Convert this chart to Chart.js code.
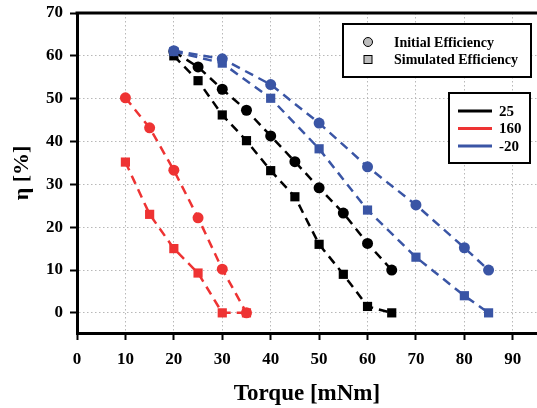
<!DOCTYPE html>
<html>
<head>
<meta charset="utf-8">
<script src="https://cdn.jsdelivr.net/npm/chart.js@4.4.0/dist/chart.umd.min.js"></script>
<style>
  html, body { margin: 0; padding: 0; background: #fff; }
  #wrap { width: 537px; height: 408px; position: relative; }
</style>
</head>
<body>
<div id="wrap"><canvas id="effChart" width="537" height="408"></canvas></div>
<script>
// Torque values (mNm) for each temperature
const torque25 = [20, 25, 30, 35, 40, 45, 50, 55, 60, 65];
const torque160 = [10, 15, 20, 25, 30, 35];
const torqueMinus20 = [20, 30, 40, 50, 60, 70, 80, 85];

// Efficiency values (%)
const initial25 = [61, 57.4, 52.2, 47.3, 41.3, 35.3, 29.2, 23.3, 16.2, 10];
const simulated25 = [60, 54.2, 46.2, 40.2, 33.2, 27.1, 16, 9, 1.5, 0];
const initial160 = [50.2, 43.2, 33.3, 22.2, 10.2, 0];
const simulated160 = [35.2, 23, 15, 9.3, 0, 0];
const initialMinus20 = [61.2, 59.3, 53.3, 44.3, 34.1, 25.2, 15.2, 10];
const simulatedMinus20 = [61, 58.3, 50.1, 38.3, 24, 13, 4, 0];

const xTicks = [0, 10, 20, 30, 40, 50, 60, 70, 80, 90];
const yTicks = [0, 10, 20, 30, 40, 50, 60, 70];

const BLACK = '#000000';
const RED = '#ee3333';
const BLUE = '#3a55a5';
const SERIF = '"Liberation Serif", "DejaVu Serif", serif';

function points(xs, ys) {
    return xs.map((x, i) => ({ x: x, y: ys[i] }));
}

function series(label, xs, ys, color, shape) {
    return {
        label: label,
        data: points(xs, ys),
        borderColor: color,
        backgroundColor: color,
        borderWidth: 2.5,
        borderDash: [9, 6],
        pointStyle: shape,
        pointRadius: shape === 'rect' ? 6.5 : 5.5,
        pointBorderWidth: 0,
        pointBorderColor: color,
        pointBackgroundColor: color,
        tension: 0
    };
}

// Legends, top border of the plot
const decorPlugin = {
    id: 'decor',
    afterDraw(chart) {
        const ctx = chart.ctx;
        const area = chart.chartArea;
        ctx.save();

        // top frame line
        ctx.strokeStyle = '#000';
        ctx.lineWidth = 3;
        ctx.beginPath();
        ctx.moveTo(area.left - 1.5, area.top);
        ctx.lineTo(area.right, area.top);
        ctx.stroke();

        // marker legend
        ctx.fillStyle = '#fff';
        ctx.fillRect(343, 24, 188, 53);
        ctx.lineWidth = 2;
        ctx.strokeRect(343, 24, 188, 53);

        ctx.fillStyle = '#bdbdbd';
        ctx.lineWidth = 1;
        ctx.beginPath();
        ctx.arc(368, 42, 4.5, 0, Math.PI * 2);
        ctx.fill();
        ctx.stroke();
        ctx.fillRect(364, 55.5, 8, 8);
        ctx.strokeRect(364, 55.5, 8, 8);

        ctx.fillStyle = '#000';
        ctx.font = 'bold 14px ' + SERIF;
        ctx.textBaseline = 'middle';
        ctx.textAlign = 'left';
        ctx.fillText('Initial Efficiency', 394, 43);
        ctx.fillText('Simulated Efficiency', 394, 60);

        // temperature legend
        ctx.fillStyle = '#fff';
        ctx.fillRect(449, 93, 81, 70);
        ctx.lineWidth = 2;
        ctx.strokeStyle = '#000';
        ctx.strokeRect(449, 93, 81, 70);

        const rows = [['25', BLACK, 111], ['160', RED, 128.5], ['-20', BLUE, 146]];
        ctx.font = 'bold 15px ' + SERIF;
        rows.forEach(r => {
            ctx.strokeStyle = r[1];
            ctx.lineWidth = 3;
            ctx.beginPath();
            ctx.moveTo(458, r[2]);
            ctx.lineTo(492, r[2]);
            ctx.stroke();
            ctx.fillStyle = '#000';
            ctx.fillText(r[0], 499, r[2] + 1);
        });

        ctx.restore();
    }
};

const ctx = document.getElementById('effChart').getContext('2d');

new Chart(ctx, {
    type: 'line',
    data: {
        datasets: [
            series('-20 initial', torqueMinus20, initialMinus20, BLUE, 'circle'),
            series('-20 simulated', torqueMinus20, simulatedMinus20, BLUE, 'rect'),
            series('25 initial', torque25, initial25, BLACK, 'circle'),
            series('25 simulated', torque25, simulated25, BLACK, 'rect'),
            series('160 initial', torque160, initial160, RED, 'circle'),
            series('160 simulated', torque160, simulated160, RED, 'rect')
        ]
    },
    options: {
        responsive: false,
        animation: false,
        layout: { autoPadding: false, padding: { top: 13, right: 0, left: 0, bottom: 0 } },
        plugins: {
            legend: { display: false },
            tooltip: { enabled: false }
        },
        scales: {
            x: {
                type: 'linear',
                min: 0,
                max: 95,
                afterBuildTicks: s => { s.ticks = xTicks.map(v => ({ value: v })); },
                afterFit: s => {
                    s.height = 75;
                    s.paddingLeft = 0;
                    s.paddingRight = 0;
                },
                ticks: {
                    color: '#000',
                    padding: 9,
                    maxRotation: 0,
                    font: { family: SERIF, size: 17, weight: 'bold' }
                },
                grid: {
                    color: '#b8b8b8',
                    lineWidth: 1,
                    tickColor: '#000',
                    tickWidth: 2,
                    tickLength: 7
                },
                border: { display: true, color: '#000', width: 3, dash: [1.5, 2.5] },
                title: {
                    display: true,
                    text: 'Torque [mNm]',
                    color: '#000',
                    padding: { top: 0, bottom: 0 },
                    font: { family: SERIF, size: 23, weight: 'bold' }
                }
            },
            y: {
                type: 'linear',
                min: -4.7,
                max: 70,
                afterBuildTicks: s => { s.ticks = yTicks.map(v => ({ value: v })); },
                afterFit: s => {
                    s.width = 77;
                    s.paddingTop = 0;
                    s.paddingBottom = 0;
                },
                ticks: {
                    color: '#000',
                    padding: 7,
                    font: { family: SERIF, size: 17, weight: 'bold' }
                },
                grid: {
                    color: '#b8b8b8',
                    lineWidth: 1,
                    tickColor: '#000',
                    tickWidth: 2,
                    tickLength: 7
                },
                border: { display: true, color: '#000', width: 3, dash: [1.5, 2.5] },
                title: {
                    display: true,
                    text: 'η [%]',
                    color: '#000',
                    padding: { top: 9, bottom: 0 },
                    font: { family: SERIF, size: 22, weight: 'bold' }
                }
            }
        }
    },
    plugins: [decorPlugin]
});
</script>
</body>
</html>
